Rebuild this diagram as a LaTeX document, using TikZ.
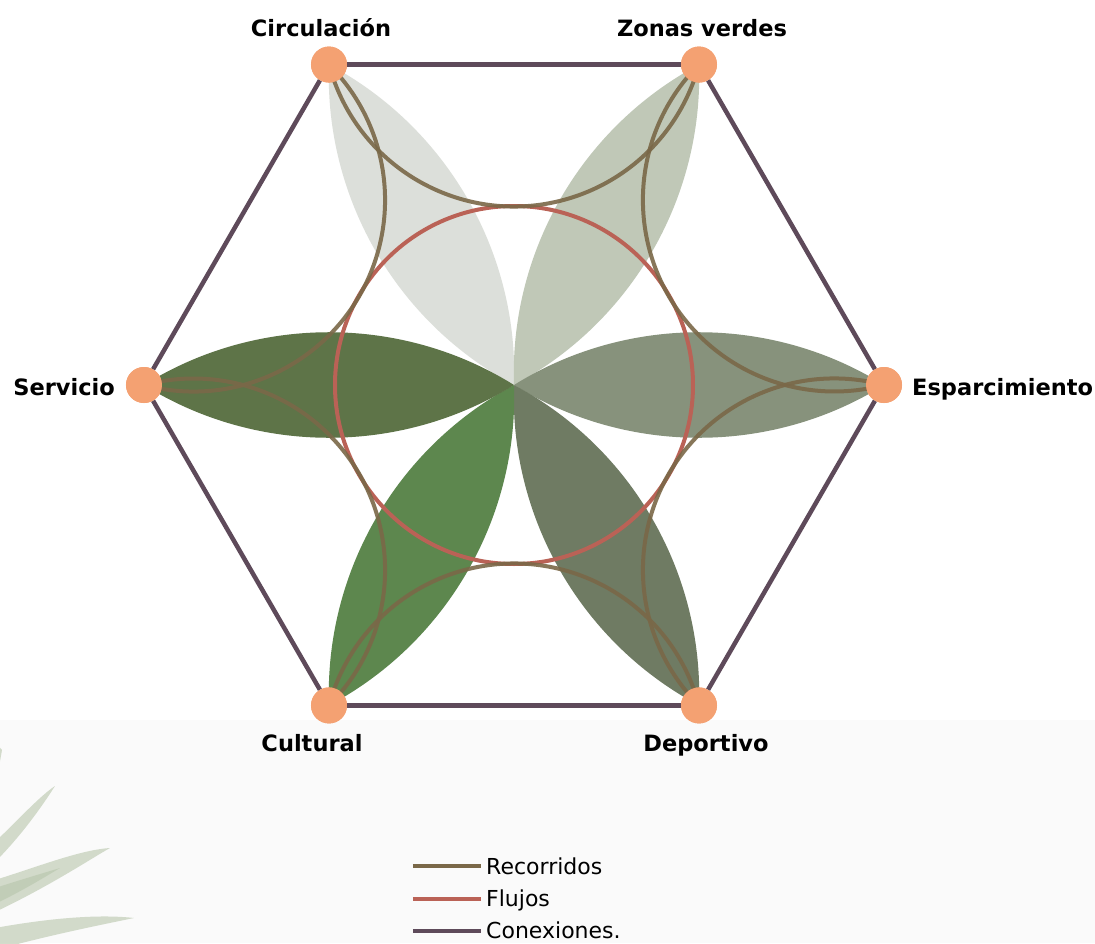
\documentclass[tikz,border=0pt]{standalone}
\usepackage{fontspec}
\setmainfont{DejaVu Sans}
\definecolor{petalA}{RGB}{220,223,218}
\definecolor{petalB}{RGB}{192,200,183}
\definecolor{petalC}{RGB}{135,146,124}
\definecolor{petalD}{RGB}{111,123,99}
\definecolor{petalE}{RGB}{93,135,78}
\definecolor{petalF}{RGB}{94,116,72}
\definecolor{flujo}{RGB}{186,98,86}
\definecolor{recorrido}{RGB}{122,104,72}
\definecolor{conexion}{RGB}{94,74,90}
\definecolor{nodo}{RGB}{244,161,114}
\definecolor{leaf}{RGB}{200,211,190}
\definecolor{leafdark}{RGB}{178,194,166}
\definecolor{paper}{RGB}{250,250,250}
\tikzset{
  dot/.style={circle, fill=nodo, draw=none, minimum size=36pt, inner sep=0pt},
  label/.style={font=\fontsize{22.5}{27}\selectfont\bfseries, text=black, inner sep=0pt},
  legendtext/.style={font=\fontsize{22}{26}\selectfont, text=black, inner sep=0pt, anchor=base west},
  recline/.style={draw=recorrido, line width=4pt, draw opacity=0.9},
  flujoline/.style={draw=flujo, line width=4pt},
  conline/.style={draw=conexion, line width=4.5pt},
  leafshape/.style={fill=leaf, draw=none, opacity=0.8}
}
\begin{document}
\begin{tikzpicture}[x=1pt,y=1pt]
% canvas and lower band
\useasboundingbox (-514,-558) rectangle (581,385);
\fill[white] (-514,-558) rectangle (581,385);
\fill[paper] (-514,-558) rectangle (581,-335);

% leaves in the lower-left corner (pixel-style coordinates)
\begin{scope}[shift={(-514,385)}, yscale=-1]
  \fill[leafshape] (-5,790) -- (2,750) -- (-5,742) -- cycle;
  \fill[leafshape] (-5,842) .. controls (20,818) and (40,796) .. (55,786)
        .. controls (46,800) and (25,832) .. (-5,862) -- cycle;
  \fill[leafshape] (-5,880) .. controls (40,866) and (80,850) .. (110,848)
        .. controls (92,858) and (50,886) .. (-5,912) -- cycle;
  \fill[leafdark, opacity=0.5] (-5,888) .. controls (20,880) and (40,874) .. (60,868)
        .. controls (40,880) and (20,892) .. (-5,904) -- cycle;
  \fill[leafshape] (-5,928) .. controls (50,918) and (100,914) .. (134,918)
        .. controls (100,925) and (50,935) .. (-5,950) -- cycle;
\end{scope}

% petals
\coordinate (O) at (0,0);
\foreach \ang/\col in {120/petalA, 60/petalB, 0/petalC, 300/petalD, 240/petalE, 180/petalF}{
  \fill[\col] (O) to[bend left=32, looseness=0.92] (\ang:370pt)
                  to[bend left=32, looseness=0.92] (O) -- cycle;
}

% vertex nodes
\node[dot] (circ)  at (120:370pt) {};
\node[dot] (zona)  at (60:370pt)  {};
\node[dot] (espar) at (0:370pt)   {};
\node[dot] (depor) at (300:370pt) {};
\node[dot] (cult)  at (240:370pt) {};
\node[dot] (serv)  at (180:370pt) {};

% flujos
\draw[flujoline] (O) circle[radius=179pt];

% recorridos: arcs between neighbouring vertices, tangent to the inner circle
\draw[recline] (circ.center)  arc[start angle=195, end angle=345, radius=191.5pt];
\draw[recline] (zona.center)  arc[start angle=135, end angle=285, radius=191.5pt];
\draw[recline] (espar.center) arc[start angle=75,  end angle=225, radius=191.5pt];
\draw[recline] (depor.center) arc[start angle=15,  end angle=165, radius=191.5pt];
\draw[recline] (cult.center)  arc[start angle=-45, end angle=105, radius=191.5pt];
\draw[recline] (serv.center)  arc[start angle=255, end angle=405, radius=191.5pt];

% conexiones
\draw[conline] (circ) -- (zona);
\draw[conline] (zona) -- (espar);
\draw[conline] (espar) -- (depor);
\draw[conline] (depor) -- (cult);
\draw[conline] (cult) -- (serv);
\draw[conline] (serv) -- (circ);

% redraw nodes on top
\foreach \n in {circ,zona,espar,depor,cult,serv}{
  \fill[nodo] (\n.center) circle[radius=18pt];
}

% labels
\node[label, anchor=base] (lcirc) at (-193,348) {Circulación};
\node[label, anchor=base] (lzona) at (188,348) {Zonas verdes};
\node[label, anchor=base west] (lespar) at (398,-10) {Esparcimiento};
\node[label, anchor=base east] (lserv) at (-399,-10) {Servicio};
\node[label, anchor=base] (lcult) at (-202,-366) {Cultural};
\node[label, anchor=base] (ldepor) at (192,-366) {Deportivo};

% legend
\coordinate (r1) at (-101,-481); \coordinate (r2) at (-33,-481);
\coordinate (f1) at (-101,-514); \coordinate (f2) at (-33,-514);
\coordinate (c1) at (-101,-546); \coordinate (c2) at (-33,-546);
\draw[draw=recorrido, line width=4pt] (r1) -- (r2);
\draw[flujoline] (f1) -- (f2);
\draw[conline, line width=4pt] (c1) -- (c2);
\node[legendtext] (tr) at (-28,-489) {Recorridos};
\node[legendtext] (tf) at (-28,-521) {Flujos};
\node[legendtext] (tc) at (-28,-553) {Conexiones.};
\end{tikzpicture}
\end{document}
